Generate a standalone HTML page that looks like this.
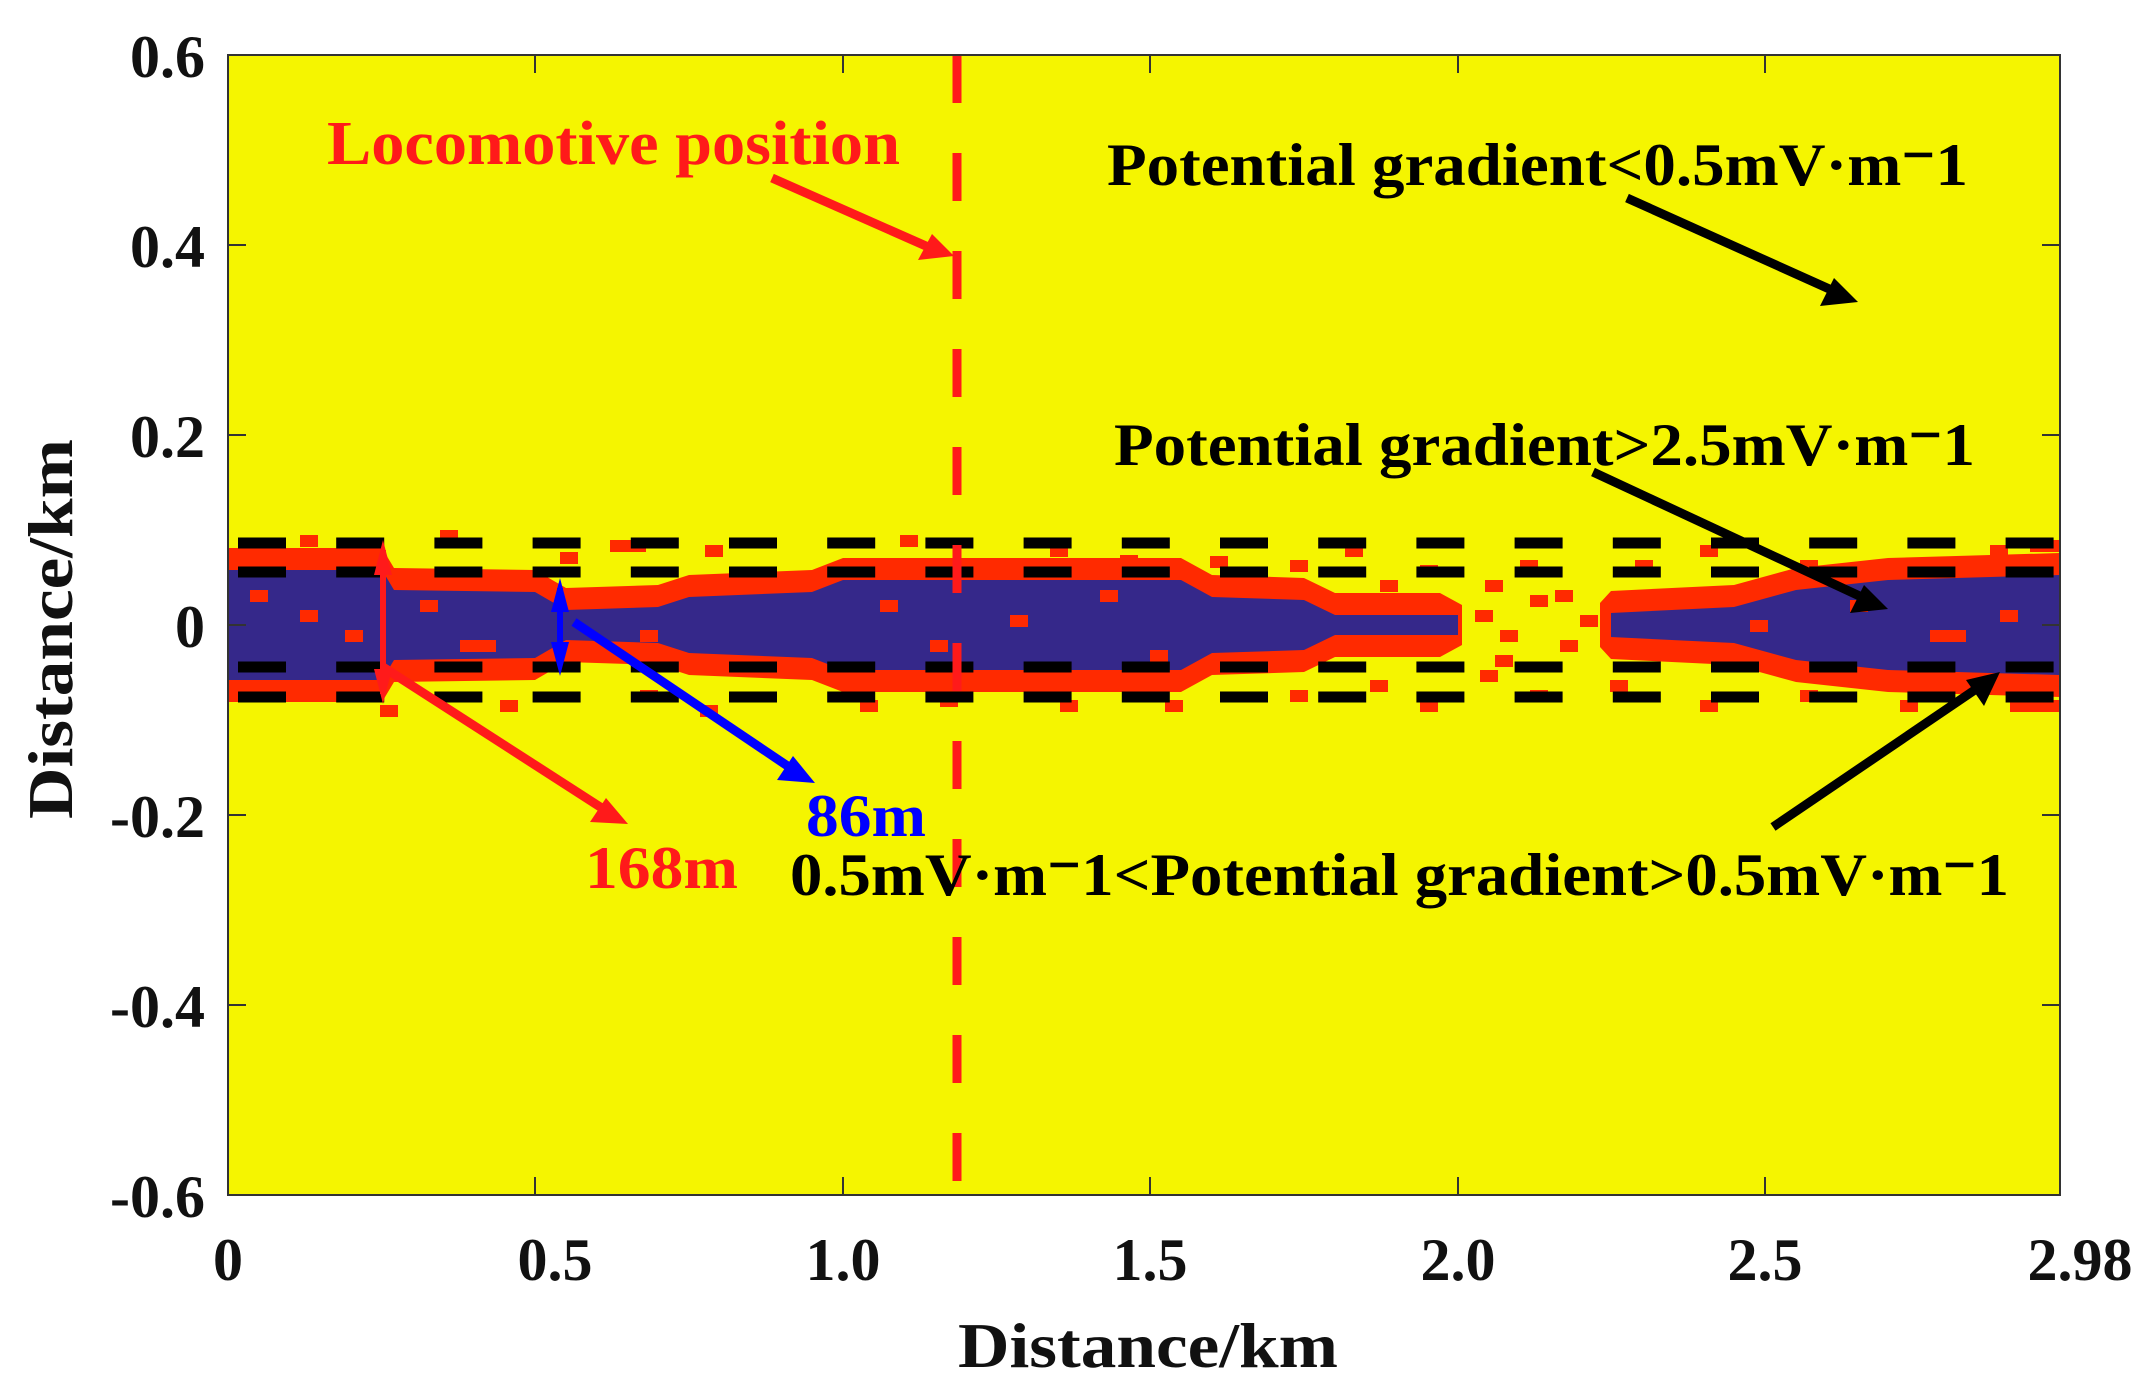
<!DOCTYPE html>
<html><head><meta charset="utf-8"><style>html,body{margin:0;padding:0;background:#fff;}svg{display:block}</style></head>
<body>
<svg width="2138" height="1393" viewBox="0 0 2138 1393" xmlns="http://www.w3.org/2000/svg" font-family="Liberation Serif, serif" font-weight="bold">
<rect x="228" y="55" width="1832" height="1140" fill="#f5f500"/>
<!-- red envelope -->
<polygon fill="#ff2a00" points="228,548 382,548 394,568 535,570 566,588 658,585 689,575 812,570 843,558 1181,558 1212,575 1304,578 1335,593 1440,593 1462,605 1462,645 1440,657 1335,657 1304,672 1212,675 1181,692 843,692 812,680 689,675 658,665 566,662 535,680 394,682 382,702 228,702"/>
<polygon fill="#ff2a00" points="1600,603 1611,591 1734,585 1796,568 1888,558 2060,553 2060,697 1888,692 1796,682 1734,665 1611,659 1600,647"/>
<!-- blue core -->
<polygon fill="#35288a" points="228,570 382,570 394,590 535,592 566,610 658,607 689,597 812,592 843,580 1181,580 1212,597 1304,600 1335,615 1458,615 1458,635 1335,635 1304,650 1212,653 1181,670 843,670 812,658 689,653 658,643 566,640 535,658 394,660 382,680 228,680"/>
<polygon fill="#35288a" points="1611,613 1734,607 1796,590 1888,580 2060,575 2060,675 1888,670 1796,660 1734,643 1611,637"/>
<!-- scattered red cells -->
<g fill="#ff2a00">
<rect x="250" y="590" width="18" height="12"/><rect x="300" y="610" width="18" height="12"/><rect x="345" y="630" width="18" height="12"/><rect x="420" y="600" width="18" height="12"/><rect x="460" y="640" width="36" height="12"/><rect x="640" y="630" width="18" height="12"/><rect x="880" y="600" width="18" height="12"/><rect x="930" y="640" width="18" height="12"/><rect x="1010" y="615" width="18" height="12"/><rect x="1100" y="590" width="18" height="12"/><rect x="1150" y="650" width="18" height="12"/><rect x="1750" y="620" width="18" height="12"/><rect x="1850" y="600" width="18" height="12"/><rect x="1930" y="630" width="36" height="12"/><rect x="2000" y="610" width="18" height="12"/>
<rect x="1475" y="610" width="18" height="12"/><rect x="1500" y="630" width="18" height="12"/><rect x="1530" y="595" width="18" height="12"/><rect x="1560" y="640" width="18" height="12"/><rect x="1580" y="615" width="18" height="12"/><rect x="1495" y="655" width="18" height="12"/>
<rect x="300" y="535" width="18" height="12"/><rect x="440" y="530" width="18" height="12"/><rect x="560" y="552" width="18" height="12"/><rect x="610" y="540" width="36" height="12"/><rect x="705" y="545" width="18" height="12"/><rect x="900" y="535" width="18" height="12"/><rect x="1050" y="545" width="18" height="12"/><rect x="1120" y="555" width="18" height="12"/><rect x="1210" y="556" width="18" height="12"/><rect x="1290" y="560" width="18" height="12"/><rect x="1345" y="545" width="18" height="12"/><rect x="1380" y="580" width="18" height="12"/><rect x="1420" y="565" width="18" height="12"/><rect x="1485" y="580" width="18" height="12"/><rect x="1520" y="560" width="18" height="12"/><rect x="1555" y="590" width="18" height="12"/><rect x="1635" y="560" width="18" height="12"/><rect x="1700" y="545" width="18" height="12"/><rect x="1800" y="560" width="18" height="12"/><rect x="1990" y="545" width="18" height="12"/><rect x="2030" y="540" width="30" height="12"/>
<rect x="380" y="705" width="18" height="12"/><rect x="500" y="700" width="18" height="12"/><rect x="640" y="690" width="18" height="12"/><rect x="700" y="705" width="18" height="12"/><rect x="860" y="700" width="18" height="12"/><rect x="940" y="695" width="18" height="12"/><rect x="1060" y="700" width="18" height="12"/><rect x="1100" y="680" width="18" height="12"/><rect x="1165" y="700" width="18" height="12"/><rect x="1290" y="690" width="18" height="12"/><rect x="1370" y="680" width="18" height="12"/><rect x="1420" y="700" width="18" height="12"/><rect x="1480" y="670" width="18" height="12"/><rect x="1530" y="690" width="18" height="12"/><rect x="1610" y="680" width="18" height="12"/><rect x="1700" y="700" width="18" height="12"/><rect x="1800" y="690" width="18" height="12"/><rect x="1900" y="700" width="18" height="12"/><rect x="2010" y="700" width="50" height="12"/>
</g>
<!-- black dashes -->
<g stroke="#000" stroke-width="11" stroke-dasharray="48 50.2">
<line x1="238" y1="543" x2="2060" y2="543"/><line x1="238" y1="572" x2="2060" y2="572"/><line x1="238" y1="667" x2="2060" y2="667"/><line x1="238" y1="697" x2="2060" y2="697"/>
</g>
<line x1="957" y1="55" x2="957" y2="1195" stroke="#ff1a1a" stroke-width="9" stroke-dasharray="48 50"/>
<rect x="228" y="55" width="1832" height="1140" fill="none" stroke="#333" stroke-width="2"/>
<g stroke="#333" stroke-width="2">
<line x1="228" y1="1195" x2="228" y2="1177"/><line x1="535" y1="1195" x2="535" y2="1177"/><line x1="843" y1="1195" x2="843" y2="1177"/><line x1="1150" y1="1195" x2="1150" y2="1177"/><line x1="1458" y1="1195" x2="1458" y2="1177"/><line x1="1765" y1="1195" x2="1765" y2="1177"/>
<line x1="535" y1="55" x2="535" y2="73"/><line x1="843" y1="55" x2="843" y2="73"/><line x1="1150" y1="55" x2="1150" y2="73"/><line x1="1458" y1="55" x2="1458" y2="73"/><line x1="1765" y1="55" x2="1765" y2="73"/>
<line x1="228" y1="245" x2="246" y2="245"/><line x1="228" y1="435" x2="246" y2="435"/><line x1="228" y1="625" x2="246" y2="625"/><line x1="228" y1="815" x2="246" y2="815"/><line x1="228" y1="1005" x2="246" y2="1005"/>
<line x1="2060" y1="245" x2="2042" y2="245"/><line x1="2060" y1="435" x2="2042" y2="435"/><line x1="2060" y1="625" x2="2042" y2="625"/><line x1="2060" y1="815" x2="2042" y2="815"/><line x1="2060" y1="1005" x2="2042" y2="1005"/>
</g>
<g font-size="60" fill="#111" text-anchor="end">
<text x="205" y="77">0.6</text><text x="205" y="267">0.4</text><text x="205" y="457">0.2</text><text x="205" y="647">0</text><text x="205" y="837">-0.2</text><text x="205" y="1027">-0.4</text><text x="205" y="1217">-0.6</text>
</g>
<g font-size="60" fill="#111" text-anchor="middle">
<text x="228" y="1280">0</text><text x="555" y="1280">0.5</text><text x="843" y="1280">1.0</text><text x="1150" y="1280">1.5</text><text x="1458" y="1280">2.0</text><text x="1765" y="1280">2.5</text><text x="2080" y="1280">2.98</text>
</g>
<text x="1148" y="1367" font-size="64" text-anchor="middle" textLength="380" lengthAdjust="spacingAndGlyphs" fill="#111">Distance/km</text>
<text transform="translate(72,629) rotate(-90)" font-size="64" text-anchor="middle" textLength="380" lengthAdjust="spacingAndGlyphs" fill="#111">Distance/km</text>
<text x="327" y="164" font-size="62" fill="#ff1a1a" textLength="573" lengthAdjust="spacingAndGlyphs">Locomotive position</text>
<line x1="772" y1="178" x2="935" y2="250" stroke="#ff1a1a" stroke-width="9"/>
<polygon points="954,256 918,260 932,234" fill="#ff1a1a"/>
<text x="1107" y="185" font-size="60" fill="#000" textLength="861" lengthAdjust="spacingAndGlyphs">Potential gradient&lt;0.5mV·m⁻1</text>
<line x1="1627" y1="198" x2="1836" y2="292" stroke="#000" stroke-width="9"/>
<polygon points="1858,302 1820,306 1834,278" fill="#000"/>
<text x="1114" y="465" font-size="60" fill="#000" textLength="861" lengthAdjust="spacingAndGlyphs">Potential gradient&gt;2.5mV·m⁻1</text>
<line x1="1593" y1="472" x2="1866" y2="599" stroke="#000" stroke-width="9"/>
<polygon points="1888,609 1850,613 1864,585" fill="#000"/>
<text x="790" y="895" font-size="60" fill="#000" textLength="1219" lengthAdjust="spacingAndGlyphs">0.5mV·m⁻1&lt;Potential gradient&gt;0.5mV·m⁻1</text>
<line x1="1773" y1="827" x2="1985" y2="683" stroke="#000" stroke-width="9"/>
<polygon points="2000,672 1984,706 1966,680" fill="#000"/>
<text x="585" y="888" font-size="60" fill="#ff1a1a" textLength="153" lengthAdjust="spacingAndGlyphs">168m</text>
<line x1="383" y1="667" x2="608" y2="812" stroke="#ff1a1a" stroke-width="9"/>
<polygon points="628,824 590,822 606,798" fill="#ff1a1a"/>
<line x1="383" y1="550" x2="383" y2="694" stroke="#ff1a1a" stroke-width="6"/>
<polygon points="383,540 374,575 392,575" fill="#ff1a1a"/>
<polygon points="383,704 374,669 392,669" fill="#ff1a1a"/>
<text x="806" y="836" font-size="60" fill="#0000ff" textLength="120" lengthAdjust="spacingAndGlyphs">86m</text>
<line x1="574" y1="622" x2="795" y2="771" stroke="#0000ff" stroke-width="9"/>
<polygon points="815,783 777,780 793,756" fill="#0000ff"/>
<line x1="560" y1="588" x2="560" y2="664" stroke="#0000ff" stroke-width="6"/>
<polygon points="560,578 551,612 569,612" fill="#0000ff"/>
<polygon points="560,676 551,642 569,642" fill="#0000ff"/>
</svg>
</body></html>
